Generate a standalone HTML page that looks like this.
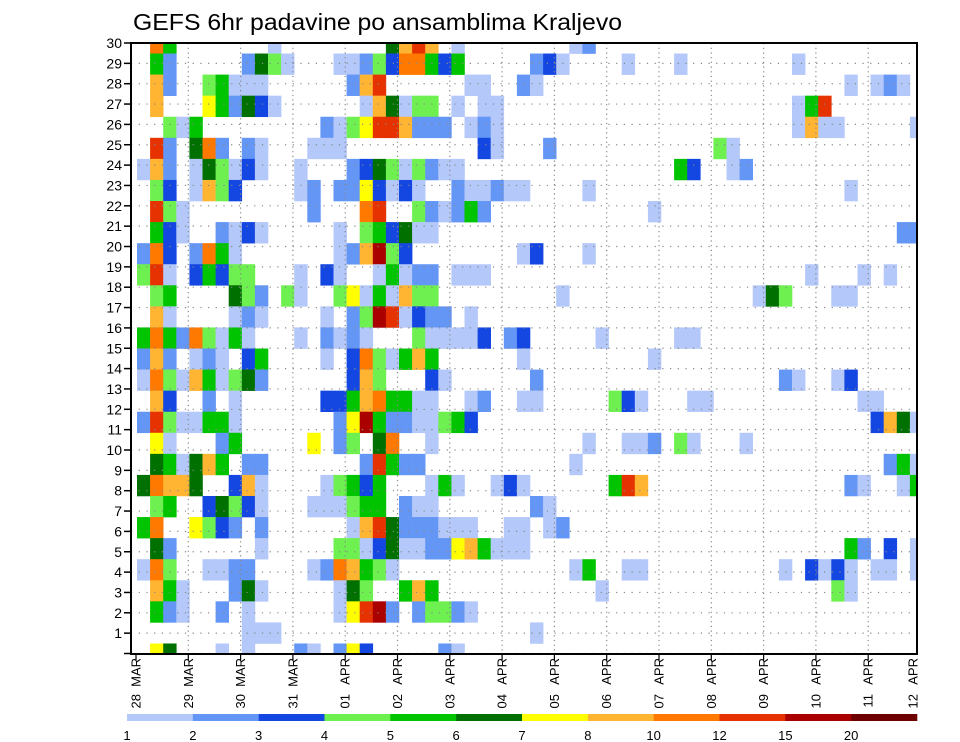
<!DOCTYPE html>
<html><head><meta charset="utf-8">
<style>
html,body{margin:0;padding:0;background:#fff;}
svg{display:block;font-family:"Liberation Sans",sans-serif;}
</style></head>
<body>
<svg id="chart" width="960" height="742" viewBox="0 0 960 742">
<text x="133" y="30" font-size="23" textLength="489" lengthAdjust="spacingAndGlyphs" fill="#000">GEFS 6hr padavine po ansamblima Kraljevo</text>
<g id="cells"></g>
<g id="grid"></g>
<g id="axes"></g>
<g id="legend"></g>
</svg>
<script>
// ---- data ----
// level thresholds (mm / 6h) shown in legend
const levelTicks = [1,2,3,4,5,6,7,8,10,12,15,20];
const levelColors = ["#b4c8fa","#6496f5","#1446e1","#6ef050","#00c400","#007000","#ffff00","#ffb432","#ff7800","#e63200","#aa0000","#6e0000"];
// representative value per code letter a..l
const codeValues = {a:1.5,b:2.5,c:3.5,d:4.5,e:5.5,f:6.5,g:7.5,h:9,i:11,j:13.5,k:17,l:25};
// members (band 0 = top), entries "col+code"
const memberCells = [
"1i 2e 10a 19f 20h 21j 22h 24a 33a 34b",
"1e 2b 8b 9f 10d 11a 15a 16a 17b 18d 19c 20i 21i 22e 23c 24e 30b 31c 32a 37a 41a 50a",
"1h 2b 5d 6e 7a 8a 9a 16b 17h 18j 25a 26a 29b 30a 54a 56a 57b 58a",
"1h 5g 6e 7b 8f 9c 10a 17a 18h 19f 20a 21d 22d 24a 26a 27a 50a 51e 52j",
"2d 3a 4e 14b 15a 16d 17g 18j 19j 20h 21b 22b 23b 25a 26b 27a 50a 51h 52a 53a 59a",
"1j 2b 4f 5i 6b 8b 9a 13a 14a 15a 26c 27a 31b 44d 45a",
"0a 1h 2b 4a 5f 6d 7a 8c 9a 12a 16b 17c 18f 19d 20a 21d 22b 23a 24a 41e 42c 45a 46b",
"1d 2c 4a 5h 6d 7c 12a 13b 15b 16b 17g 18c 19a 20c 21a 24b 25a 26a 27b 28a 29a 34a 54a",
"1j 2d 3a 13b 17i 18j 21d 22b 23a 24b 25e 26b 39a",
"1e 2c 3a 6b 7a 8c 9a 15a 17d 18e 19c 20f 21a 22a 58b 59b",
"0b 1i 2c 4b 5i 6e 7a 15a 16b 17h 18k 19d 20c 29a 30c 34a",
"0d 1j 2a 4c 5e 6c 7d 8d 12a 14c 15a 18a 19e 20a 21b 22b 24a 25a 26a 51a 55a 57a",
"1d 2e 7f 8d 9b 11d 12a 15d 16g 17a 18e 19a 20h 21d 22d 32a 47a 48f 49d 53a 54a",
"1h 2a 7a 8b 9a 14a 16b 17d 18k 19j 20a 21c 22b 23b 25a",
"0e 1i 2e 3b 4i 5d 6a 7e 8a 12a 14b 15a 16b 17a 21d 22a 23a 24a 25a 26c 28b 29c 35a 41a 42a",
"0b 1h 2b 4a 5b 6a 8c 9e 14a 16c 17i 18d 19a 20e 21h 22e 29a 39a",
"0a 1i 2d 3a 4h 5e 6a 7d 8f 9b 16c 17h 18d 22c 23a 30b 49b 50a 53a 54c",
"1h 2c 5b 7a 14c 15c 16e 17h 18i 19e 20e 21a 22a 25a 26b 29a 30a 36d 37c 38a 42a 43a 55a 56a",
"0b 1j 2d 3a 4a 5e 6e 7a 15b 16g 17k 18e 19b 20b 21a 22a 23d 24e 25c 56c 57h 58f 59a",
"1g 2a 6b 7e 13g 15b 16d 18f 19i 22a 34a 37a 38a 39b 41d 42a 46a",
"1f 2e 3a 4f 5h 6e 8b 9b 17b 18j 19e 20b 21b 33a 57b 58e 59a",
"0f 1i 2h 3h 4f 7c 8h 9a 14a 15d 16e 17c 18e 22a 23e 24a 27a 28c 29a 36e 37j 38h 54b 55a 58a 59e",
"1d 2e 5c 6f 7d 8c 9a 13a 14a 15a 16d 17e 18e 20b 21a 22a 30b 31a",
"0e 1i 4g 5d 6c 7b 9b 16a 17h 18j 19f 20b 21b 22b 23a 24a 25a 28a 29a 31a 32b",
"1f 2b 9a 15d 16d 17a 18c 19f 20a 21a 22b 23b 24g 25h 26e 27a 28a 29a 54e 55b 57c 59a",
"0a 1i 2d 5a 6a 7b 8b 13a 14b 15i 16h 17e 18d 19a 33a 34e 37a 38a 49a 51c 52a 53c 54a 56a 57a 59a",
"1h 2e 3a 7b 8f 9a 15a 16f 17d 20e 21h 22e 35a 53d 54a",
"1e 2b 3a 6b 8a 15a 16g 17j 18k 19b 21b 22d 23d 24b 25a",
"8a 9a 10a 30a",
"1g 2f 6a 8a 12b 13a 15b 16g 17c 23b 24a"
];
const dayLabels = ["28","29","30","31","01","02","03","04","05","06","07","08","09","10","11","12"];
const monthLabels = ["MAR","MAR","MAR","MAR","APR","APR","APR","APR","APR","APR","APR","APR","APR","APR","APR","APR"];
const yTickLabels = [0,1,2,3,4,5,6,7,8,9,10,11,12,13,14,15,16,17,18,19,20,21,22,23,24,25,26,27,28,29,30];

// ---- geometry ----
const NS="http://www.w3.org/2000/svg";
const PL=131, PR=917, PT=43, PB=654;
const nCols=60, nBands=memberCells.length;
const colW=13.1, col0=137;
const bandH=(PB-PT)/(nBands-1);
function xCol(k){return col0+k*colW;}
function yBand(i){return PT+i*bandH-bandH/2;}
function yTick(v){return PB-0.5-(v)*(PB-PT-0.5)/30;}
function xDay(d){return 136+d*52.3;}
function colorFor(v){let idx=0;for(let i=0;i<levelTicks.length;i++){if(v>=levelTicks[i])idx=i;}return levelColors[idx];}
function mk(tag,attrs,parent){const e=document.createElementNS(NS,tag);for(const k in attrs)e.setAttribute(k,attrs[k]);parent.appendChild(e);return e;}

// parse values
const values = memberCells.map(s=>{const row=new Array(nCols).fill(null);s.trim().split(/\s+/).forEach(t=>{const c=parseInt(t,10);const code=t.replace(/[0-9]/g,'');row[c]=codeValues[code];});return row;});

// clip
const svg=document.getElementById('chart');
const defs=mk('defs',{},svg);
const cp=mk('clipPath',{id:'plotclip'},defs);
mk('rect',{x:PL,y:PT,width:PR-PL,height:PB-PT},cp);

const gc=document.getElementById('cells');
gc.setAttribute('clip-path','url(#plotclip)');
values.forEach((row,i)=>{row.forEach((v,k)=>{if(v===null)return;
  const r=mk('rect',{x:xCol(k).toFixed(2),y:yBand(i).toFixed(2),width:colW+0.3,height:(bandH+0.3).toFixed(2),fill:colorFor(v)},gc);
  
  
});});

// grid
const gg=document.getElementById('grid');
yTickLabels.forEach(v=>{const y=yTick(v);
  const l=mk('line',{x1:PL,x2:PR,y1:y,y2:y,stroke:'#888','stroke-width':1.2,'stroke-dasharray':'1.2,6.5'},gg);
  
  
});
for(let d=1;d<15;d++){const x=xDay(d);
  const l=mk('line',{x1:x,x2:x,y1:PT,y2:PB,stroke:'#888','stroke-width':1.2,'stroke-dasharray':'1.2,3.5'},gg);
  
  
}

// axes
const ga=document.getElementById('axes');
const frame=mk('rect',{x:PL,y:PT,width:PR-PL,height:PB-PT,fill:'none',stroke:'#000','stroke-width':2},ga);


yTickLabels.forEach(v=>{const y=yTick(v);
  const t=mk('line',{x1:124,x2:PL,y1:y,y2:y,stroke:'#000','stroke-width':1.5},ga);
  
  
  if(v>0){const tx=mk('text',{x:122,y:y+5,'font-size':14,'text-anchor':'end',fill:'#000'},ga);tx.textContent=String(v);
    
    }
});
dayLabels.forEach((dl,d)=>{const x=(d===15)?913:xDay(d);
  if(d<15){const t=mk('line',{x1:x,x2:x,y1:PB,y2:PB+6,stroke:'#000','stroke-width':1.2},ga);
    
    }
  const m=mk('text',{transform:'translate('+(x+4.5)+',658) rotate(-90)','font-size':13,'text-anchor':'end',fill:'#000'},ga);
  m.textContent=monthLabels[d];
  
  
  const n=mk('text',{transform:'translate('+(x+4.5)+',694) rotate(-90)','font-size':13,'text-anchor':'end',fill:'#000'},ga);
  n.textContent=dl;
  
  
});

// legend
const gl=document.getElementById('legend');
const segW=(917-127)/levelColors.length;
levelColors.forEach((c,i)=>{
  const r=mk('rect',{x:127+i*segW,y:714,width:segW+0.3,height:7,fill:c},gl);
  
  
});
levelTicks.forEach((v,i)=>{
  const t=mk('text',{x:127+i*segW,y:740,'font-size':13,'text-anchor':'middle',fill:'#000'},gl);
  t.textContent=String(v);
  
  
});
</script>
</body></html>
